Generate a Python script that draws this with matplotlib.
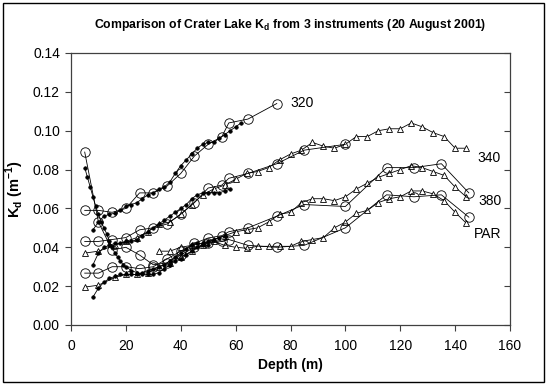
import matplotlib
matplotlib.use("Agg")
import matplotlib.pyplot as plt
from matplotlib.patches import Rectangle

plt.rcParams['font.family'] = ['Liberation Sans', 'DejaVu Sans']
plt.rcParams['mathtext.fontset'] = 'custom'
plt.rcParams['mathtext.rm'] = 'Liberation Sans:bold'
plt.rcParams['mathtext.bf'] = 'Liberation Sans:bold'

# ---- data: triangles instrument ----
tri_depth = [5, 10, 16, 20, 24, 28, 32, 36, 40, 44, 48, 52, 56, 60, 64, 68, 72, 76,
             80, 84, 88, 92, 96, 100, 104, 108, 112, 116, 120, 124, 128, 132, 136, 140, 144]
tri_340 = [0.037, 0.038, 0.041, 0.043, 0.045, 0.048, 0.052, 0.053, 0.057, 0.062, 0.067,
           0.070, 0.072, 0.075, 0.078, 0.079, 0.081, 0.085, 0.088, 0.090, 0.094, 0.092,
           0.091, 0.093, 0.097, 0.097, 0.100, 0.101, 0.101, 0.104, 0.102, 0.099, 0.097,
           0.091, 0.091]
tri_380 = [0.0195, 0.0205, 0.0245, 0.026, 0.026, 0.027, 0.030, 0.032, 0.035, 0.038, 0.041,
           0.044, 0.046, 0.048, 0.049, 0.050, 0.053, 0.057, 0.058, 0.063, 0.065, 0.065,
           0.064, 0.066, 0.070, 0.073, 0.076, 0.078, 0.080, 0.082, 0.081, 0.079, 0.077,
           0.071, 0.066]
tri_par_depth = [32, 36, 40, 44, 48, 52, 56, 60, 64, 68, 72, 76, 80, 84, 88, 92, 96, 100,
                 104, 108, 112, 116, 120, 124, 128, 132, 136, 140, 144]
tri_par = [0.038, 0.038, 0.040, 0.041, 0.042, 0.043, 0.041, 0.040, 0.0395, 0.0405, 0.0405,
           0.0405, 0.0405, 0.043, 0.044, 0.045, 0.050, 0.053, 0.0575, 0.059, 0.063, 0.065,
           0.066, 0.069, 0.069, 0.0675, 0.064, 0.058, 0.0525]

# ---- data: circles instrument ----
circ_depth = [5, 10, 15, 20, 25, 30, 35, 40, 45, 50, 55, 57.5, 64.5, 75, 85, 100,
              115, 125, 135, 145]
circ_320 = [0.059, 0.059, 0.058, 0.060, 0.068, 0.068, 0.0715, 0.078, 0.087, 0.093,
            0.097, 0.104, 0.106, 0.114]
circ_340 = [0.043, 0.043, 0.044, 0.045, 0.049, 0.050, 0.052, 0.057, 0.063, 0.0705,
            0.072, 0.0755, 0.078, 0.083, 0.090, 0.093]
circ_380 = [0.0267, 0.0267, 0.030, 0.030, 0.029, 0.030, 0.034, 0.038, 0.042, 0.0448,
            0.046, 0.048, 0.050, 0.056, 0.062, 0.061, 0.081, 0.081, 0.083, 0.068]
circ_par = [0.089, 0.053, 0.0386, 0.040, 0.036, 0.031, 0.032, 0.036, 0.040, 0.042,
            0.043, 0.044, 0.041, 0.040, 0.041, 0.050, 0.067, 0.066, 0.067, 0.0555]

# ---- data: dots instrument ----
dot_320_depth = [8, 10, 12, 14, 16, 18, 20, 22, 24, 26, 28, 30, 32, 34, 36, 38, 40, 42,
                 44, 46, 48, 50, 52, 54, 56, 58, 60, 62]
dot_320 = [0.049, 0.053, 0.056, 0.057, 0.0575, 0.059, 0.061, 0.062, 0.063, 0.065, 0.067,
           0.068, 0.070, 0.071, 0.0736, 0.078, 0.082, 0.085, 0.088, 0.091, 0.093, 0.094,
           0.094, 0.096, 0.098, 0.100, 0.102, 0.104]
dot_340_depth = [8, 10, 12, 14, 16, 18, 20, 22, 24, 26, 28, 30, 32, 34, 36, 38, 40, 42,
                 44, 46, 48, 50, 52, 54, 56, 58]
dot_340 = [0.031, 0.037, 0.040, 0.041, 0.042, 0.042, 0.043, 0.043, 0.044, 0.046, 0.048,
           0.050, 0.052, 0.054, 0.056, 0.058, 0.060, 0.062, 0.065, 0.067, 0.068, 0.068,
           0.068, 0.068, 0.069, 0.070]
dot_380_depth = [8, 10, 12, 14, 16, 18, 20, 22, 24, 26, 28, 30, 32, 34, 36, 38, 40, 42,
                 44, 46, 48, 50, 52, 54, 56]
dot_380 = [0.0144, 0.019, 0.022, 0.024, 0.025, 0.026, 0.026, 0.026, 0.026, 0.027, 0.028,
           0.029, 0.030, 0.031, 0.033, 0.035, 0.037, 0.039, 0.041, 0.042, 0.042, 0.043,
           0.044, 0.045, 0.046]
dot_par_depth = [5, 6, 7, 8, 9, 10, 11, 12, 13, 14, 15, 16, 17, 18, 19, 20, 22, 24, 26,
                 28, 30, 32, 34, 36, 38, 40, 42, 44, 46, 48, 50]
dot_par = [0.081, 0.076, 0.071, 0.066, 0.061, 0.057, 0.053, 0.050, 0.047, 0.043, 0.040,
           0.037, 0.035, 0.033, 0.031, 0.030, 0.028, 0.027, 0.026, 0.026, 0.026, 0.027,
           0.029, 0.031, 0.033, 0.034, 0.036, 0.038, 0.040, 0.041, 0.041]

labels = ["320", "340", "380", "PAR"]
label_pos = [(80, 0.1145), (148, 0.086), (148.5, 0.064), (147, 0.047)]

x_ticks = [0, 20, 40, 60, 80, 100, 120, 140, 160]
y_ticks = [0.00, 0.02, 0.04, 0.06, 0.08, 0.10, 0.12, 0.14]

fig = plt.figure(figsize=(5.48, 3.85), dpi=100)
ax = fig.add_axes([71/548, 1-325/385, (510-71)/548, (325-53)/385])

lw = 0.6
tri_kw = dict(marker='^', ms=5.0, mfc='white', mec='black', mew=0.6, color='black', lw=lw)
circ_kw = dict(marker='o', ms=6.8, mfc='none', mec='black', mew=0.6, color='black', lw=lw)
dot_kw = dict(marker='o', ms=2.6, mfc='black', mec='black', mew=0.4, color='black', lw=lw)

for v in (tri_340, tri_380):
    ax.plot(tri_depth[:len(v)], v, **tri_kw)
ax.plot(tri_par_depth, tri_par, **tri_kw)
for v in (circ_320, circ_340, circ_380, circ_par):
    ax.plot(circ_depth[:len(v)], v, **circ_kw)
ax.plot(dot_320_depth, dot_320, **dot_kw)
ax.plot(dot_340_depth, dot_340, **dot_kw)
ax.plot(dot_380_depth, dot_380, **dot_kw)
ax.plot(dot_par_depth, dot_par, **dot_kw)

for t, (x, y) in zip(labels, label_pos):
    ax.text(x, y, t, fontsize=10, va='center', ha='left')

ax.set_xlim(0, 160)
ax.set_ylim(0, 0.14)
ax.set_xticks(x_ticks)
ax.set_yticks(y_ticks)
ax.set_yticklabels([f"{v:.2f}" for v in y_ticks])
ax.tick_params(axis='both', direction='out', length=4, width=0.8, labelsize=10,
               colors='#404040', labelcolor='black')
ax.tick_params(axis='x', pad=6)
ax.tick_params(axis='y', pad=4)
for s in ax.spines.values():
    s.set_color('#404040')
    s.set_linewidth(0.9)

ax2 = ax.twinx()
ax2.set_ylim(0, 0.14)
ax2.set_yticks(y_ticks)
ax2.tick_params(axis='y', direction='in', length=4, width=0.8, labelright=False,
                colors='#404040')
for s in ax2.spines.values():
    s.set_visible(False)

ax.set_xlabel("Depth (m)", fontsize=10, fontweight='bold', labelpad=4)
ax.set_ylabel(r"K$_\mathrm{d}$ (m$^\mathrm{-1}$)", fontsize=10.5, fontweight='bold', labelpad=5)
fig.text(0.5 * (71 + 510) / 548, 1 - 25/385,
         r"Comparison of Crater Lake K$_\mathrm{d}$ from 3 instruments (20 August 2001)",
         fontsize=8.8, fontweight='bold', ha='center', va='center')

fig.patches.append(Rectangle((3/548, 3/385), 541/548, 379/385, transform=fig.transFigure,
                             fill=False, ec='black', lw=1.0))

fig.savefig("out.png", dpi=100)
